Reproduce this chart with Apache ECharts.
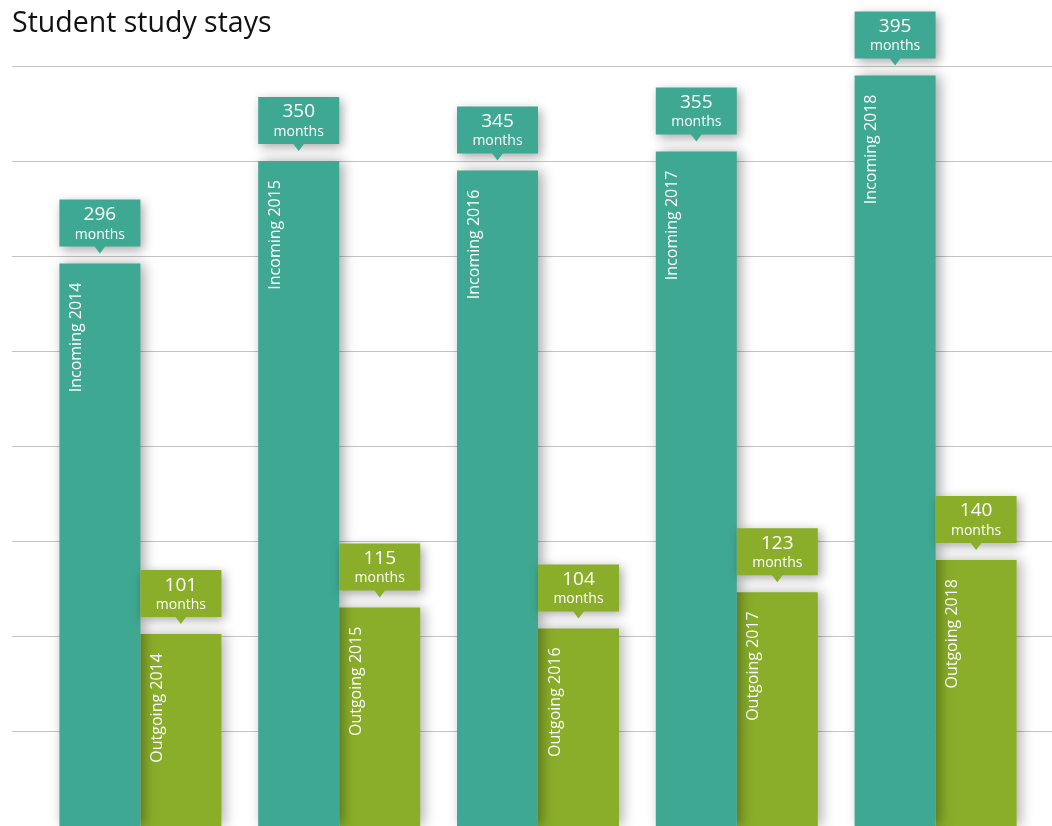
<!DOCTYPE html>
<html><head><meta charset="utf-8">
<script src="https://cdn.jsdelivr.net/npm/echarts@6/dist/echarts.min.js"></script>
<style>html,body{margin:0;padding:0;background:#fff}#c{width:1052px;height:826px}</style>
</head><body><div id="c"></div>
<script>
const years = ['2014','2015','2016','2017','2018'];
const incoming = [296, 350, 345, 355, 395];
const outgoing = [101, 115, 104, 123, 140];
const unitLabel = 'months';

const TEAL = '#3fa892';
const GREEN = '#8aae2a';
const FONT = '"Open Sans", "Noto Sans", sans-serif';

const chart = echarts.init(document.getElementById('c'));

function callout(color, dx) {
  return function (params, api) {
    const v = api.value(1);
    const p = api.coord([api.value(0), v]);
    const bw = 81;
    const cx = p[0] + dx;
    const bottom = p[1] - 17;
    const h = 47;
    return {
      type: 'group',
      children: [
        { type: 'rect', shape: { x: cx - bw / 2, y: bottom - h, width: bw, height: h },
          style: { fill: color, shadowBlur: 10, shadowOffsetX: 3, shadowOffsetY: 3, shadowColor: 'rgba(0,0,0,0.35)' } },
        { type: 'polygon', shape: { points: [[cx - 6, bottom - 1], [cx + 6, bottom - 1], [cx, bottom + 7]] },
          style: { fill: color } },
        { type: 'text', x: cx, y: bottom - h + 15,
          style: { text: String(v), fill: '#fff', font: '19px ' + FONT, align: 'center', verticalAlign: 'middle' } },
        { type: 'text', x: cx, y: bottom - h + 35,
          style: { text: unitLabel, fill: '#fff', font: '14px ' + FONT, align: 'center', verticalAlign: 'middle' } }
      ]
    };
  };
}

const barLabel = (prefix) => ({
  show: true,
  position: [17, 19],
  rotate: 90,
  align: 'right',
  verticalAlign: 'middle',
  color: '#fff',
  fontSize: 16,
  fontFamily: FONT,
  formatter: (p) => prefix + ' ' + p.name
});

chart.setOption({
  animation: false,
  title: { text: 'Student study stays', left: 7, top: 4,
    textStyle: { fontFamily: FONT, fontWeight: 'normal', fontSize: 28.5, color: '#111' } },
  grid: [
    { left: 12, right: 0, top: 66, bottom: -3 },
    { left: 41, right: 17, top: 66, bottom: -3 }
  ],
  xAxis: [
    { type: 'category', gridIndex: 0, data: years, show: false },
    { type: 'category', gridIndex: 1, data: years, show: false }
  ],
  yAxis: [
    { type: 'value', gridIndex: 0, min: 0, max: 400, interval: 50,
      axisLabel: { show: false }, axisLine: { show: false }, axisTick: { show: false },
      splitLine: { lineStyle: { color: '#c4c4c4', width: 1 } } },
    { type: 'value', gridIndex: 1, min: 0, max: 400, interval: 50, show: false,
      splitLine: { show: false } }
  ],
  series: [
    { type: 'bar', name: 'Incoming', xAxisIndex: 1, yAxisIndex: 1, data: incoming,
      barWidth: 81, barGap: '0%', z: 3,
      itemStyle: { color: TEAL, shadowBlur: 12, shadowOffsetX: 4, shadowColor: 'rgba(0,0,0,0.35)' },
      label: barLabel('Incoming') },
    { type: 'bar', name: 'Outgoing', xAxisIndex: 1, yAxisIndex: 1, data: outgoing,
      barWidth: 81, barGap: '0%', z: 2,
      itemStyle: { color: GREEN, shadowBlur: 12, shadowOffsetX: 4, shadowColor: 'rgba(0,0,0,0.3)' },
      label: barLabel('Outgoing') },
    { type: 'custom', xAxisIndex: 1, yAxisIndex: 1, z: 5,
      data: incoming.map((v, i) => [i, v]), renderItem: callout(TEAL, -40.5) },
    { type: 'custom', xAxisIndex: 1, yAxisIndex: 1, z: 5,
      data: outgoing.map((v, i) => [i, v]), renderItem: callout(GREEN, 40.5) }
  ]
});
</script></body></html>
